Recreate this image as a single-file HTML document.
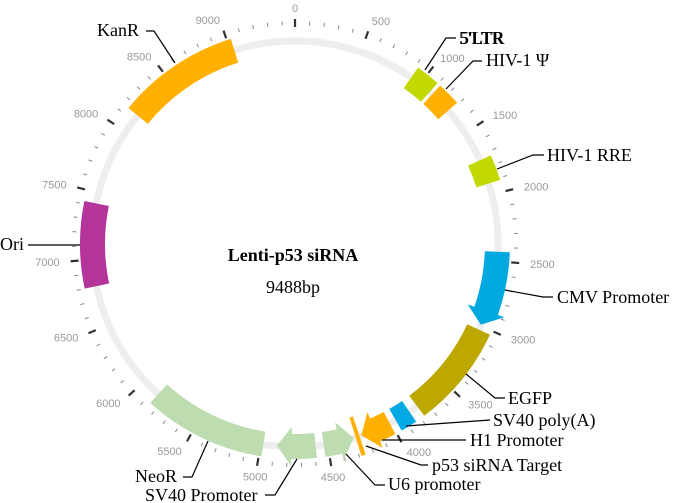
<!DOCTYPE html>
<html><head><meta charset="utf-8"><style>
html,body{margin:0;padding:0;background:#fff;}
svg{display:block;}
.l{font-family:"Liberation Serif",serif;font-size:18px;fill:#000;}
.t{font-family:"Liberation Sans",sans-serif;font-size:11px;fill:#999;}
.ld{stroke:#000;stroke-width:1.2;fill:none;}
</style></head><body>
<svg id="s" width="674" height="503" viewBox="0 0 674 503" xmlns="http://www.w3.org/2000/svg">
<circle cx="295" cy="244" r="203" fill="none" stroke="#eeeeee" stroke-width="7"/>
<g id="ticks"></g>
<g id="tl">
<text class="t">0</text><text class="t">500</text><text class="t">1000</text><text class="t">1500</text><text class="t">2000</text><text class="t">2500</text><text class="t">3000</text><text class="t">3500</text><text class="t">4000</text><text class="t">4500</text><text class="t">5000</text><text class="t">5500</text><text class="t">6000</text><text class="t">6500</text><text class="t">7000</text><text class="t">7500</text><text class="t">8000</text><text class="t">8500</text><text class="t">9000</text>
</g>
<g id="feat"></g>
<text x="293" y="261" text-anchor="middle" style="font-family:'Liberation Serif',serif;font-size:18px;font-weight:bold">Lenti-p53 siRNA</text>
<text x="293" y="293" text-anchor="middle" style="font-family:'Liberation Serif',serif;font-size:18px">9488bp</text>
<text class="l" x="97" y="36">KanR</text><polyline class="ld" points="146,31 154,31 175,63"/>
<text class="l" x="459" y="44">5'LTR</text><text class="l" x="460" y="44">5'LTR</text><polyline class="ld" points="456,38 446,38 425,70"/>
<text class="l" x="486" y="66">HIV-1 Ψ</text><polyline class="ld" points="482,61 473,61 446,89"/>
<text class="l" x="547" y="161">HIV-1 RRE</text><polyline class="ld" points="544,155 533,155 497,169"/>
<text class="l" x="557" y="303">CMV Promoter</text><polyline class="ld" points="553,297 543,297 505,290"/>
<text class="l" x="508" y="404">EGFP</text><polyline class="ld" points="505,398 495,398 466,374"/>
<text class="l" x="493" y="426">SV40 poly(A)</text><polyline class="ld" points="490,420 406,426"/>
<text class="l" x="470" y="446">H1 Promoter</text><polyline class="ld" points="466,440 382,440"/>
<text class="l" x="432" y="471">p53 siRNA Target</text><polyline class="ld" points="428,465 421,465 366,446"/>
<text class="l" x="388" y="490">U6 promoter</text><polyline class="ld" points="385,485 375,485 346,454"/>
<text class="l" x="145" y="501">SV40 Promoter</text><polyline class="ld" points="265,495 275,495 297,459"/>
<text class="l" x="135" y="482">NeoR</text><polyline class="ld" points="183,477 192,477 208,441"/>
<text class="l" x="0" y="250">Ori</text><polyline class="ld" points="28,245 80,245"/>
</svg>
<script>
var CX=295,CY=244,T=9488,NS="http://www.w3.org/2000/svg";
function pt(p,r){var a=p/T*2*Math.PI;return [CX+r*Math.sin(a),CY-r*Math.cos(a)];}
var tg=document.getElementById('ticks');
for(var p=0;p<T;p+=100){var maj=p%500==0;var a=pt(p,maj?217:219),b=pt(p,maj?225:223);
var l=document.createElementNS(NS,'line');l.setAttribute('x1',a[0]);l.setAttribute('y1',a[1]);l.setAttribute('x2',b[0]);l.setAttribute('y2',b[1]);
l.setAttribute('stroke',maj?'#333':'#888');l.setAttribute('stroke-width',maj?2.2:1);tg.appendChild(l);}
var ts=document.getElementById('tl').children;
for(var i=0;i<ts.length;i++){var p=i*500,a=p/T*2*Math.PI,s=Math.sin(a),c=pt(p,236);
ts[i].setAttribute('x',c[0]);ts[i].setAttribute('y',c[1]+4);ts[i].setAttribute('text-anchor',s>0.3?'start':(s<-0.3?'end':'middle'));}
var fg=document.getElementById('feat');
function arc(p1,p2,r){var a=pt(p1,r),b=pt(p2,r),la=(Math.abs(p2-p1)/T>0.5)?1:0,sw=p2>p1?1:0;return 'L'+a[0]+' '+a[1]+' A'+r+' '+r+' 0 '+la+' '+sw+' '+b[0]+' '+b[1];}
function add(d,col){var e=document.createElementNS(NS,'path');e.setAttribute('d',d);e.setAttribute('fill',col);fg.appendChild(e);}
var RI=190,RO=215;
function box(p1,p2,col,ri,ro){ri=ri||RI;ro=ro||RO;var s=pt(p1,ro);add('M'+s[0]+' '+s[1]+arc(p1,p2,ro).replace(/^L[^A]*/,' ')+arc(p2,p1,ri)+'Z',col);}
function arrow(p1,p2,col,dir){
 var h=110,ri=RI,ro=RO,hi=ri-7,ho=ro+7,d;
 if(dir>0){var q=p2-h;var s=pt(p1,ro),t=pt(p2,(ri+ro)/2),a=pt(q,ho),b=pt(q,hi);
  d='M'+s[0]+' '+s[1]+' '+arc(p1,q,ro).replace(/^L[^A]*/,'')+' L'+a[0]+' '+a[1]+' L'+t[0]+' '+t[1]+' L'+b[0]+' '+b[1]+' '+arc(q,p1,ri)+'Z';}
 else{var q=p1+h;var s=pt(p2,ro),t=pt(p1,(ri+ro)/2),a=pt(q,ho),b=pt(q,hi);
  d='M'+s[0]+' '+s[1]+' '+arc(p2,q,ro).replace(/^L[^A]*/,'')+' L'+a[0]+' '+a[1]+' L'+t[0]+' '+t[1]+' L'+b[0]+' '+b[1]+' '+arc(q,p2,ri)+'Z';}
 add(d,col);}
box(8150,9030,'#FFB000');
box(920,1095,'#C2D900');
box(1120,1290,'#FFB000');
box(1730,1915,'#C2D900');
arrow(2430,2990,'#00A8E0',1);
box(3030,3770,'#BCA800');
box(3840,3960,'#00AAE4');
arrow(4010,4240,'#FFB000',1);
box(4255,4285,'#FFB000',182,222);
arrow(4300,4530,'#BDDCB0',-1);
arrow(4590,4880,'#BDDCB0',1);
box(4980,5860,'#BDDCB0');
box(6800,7420,'#B5349A');
</script>
</body></html>
